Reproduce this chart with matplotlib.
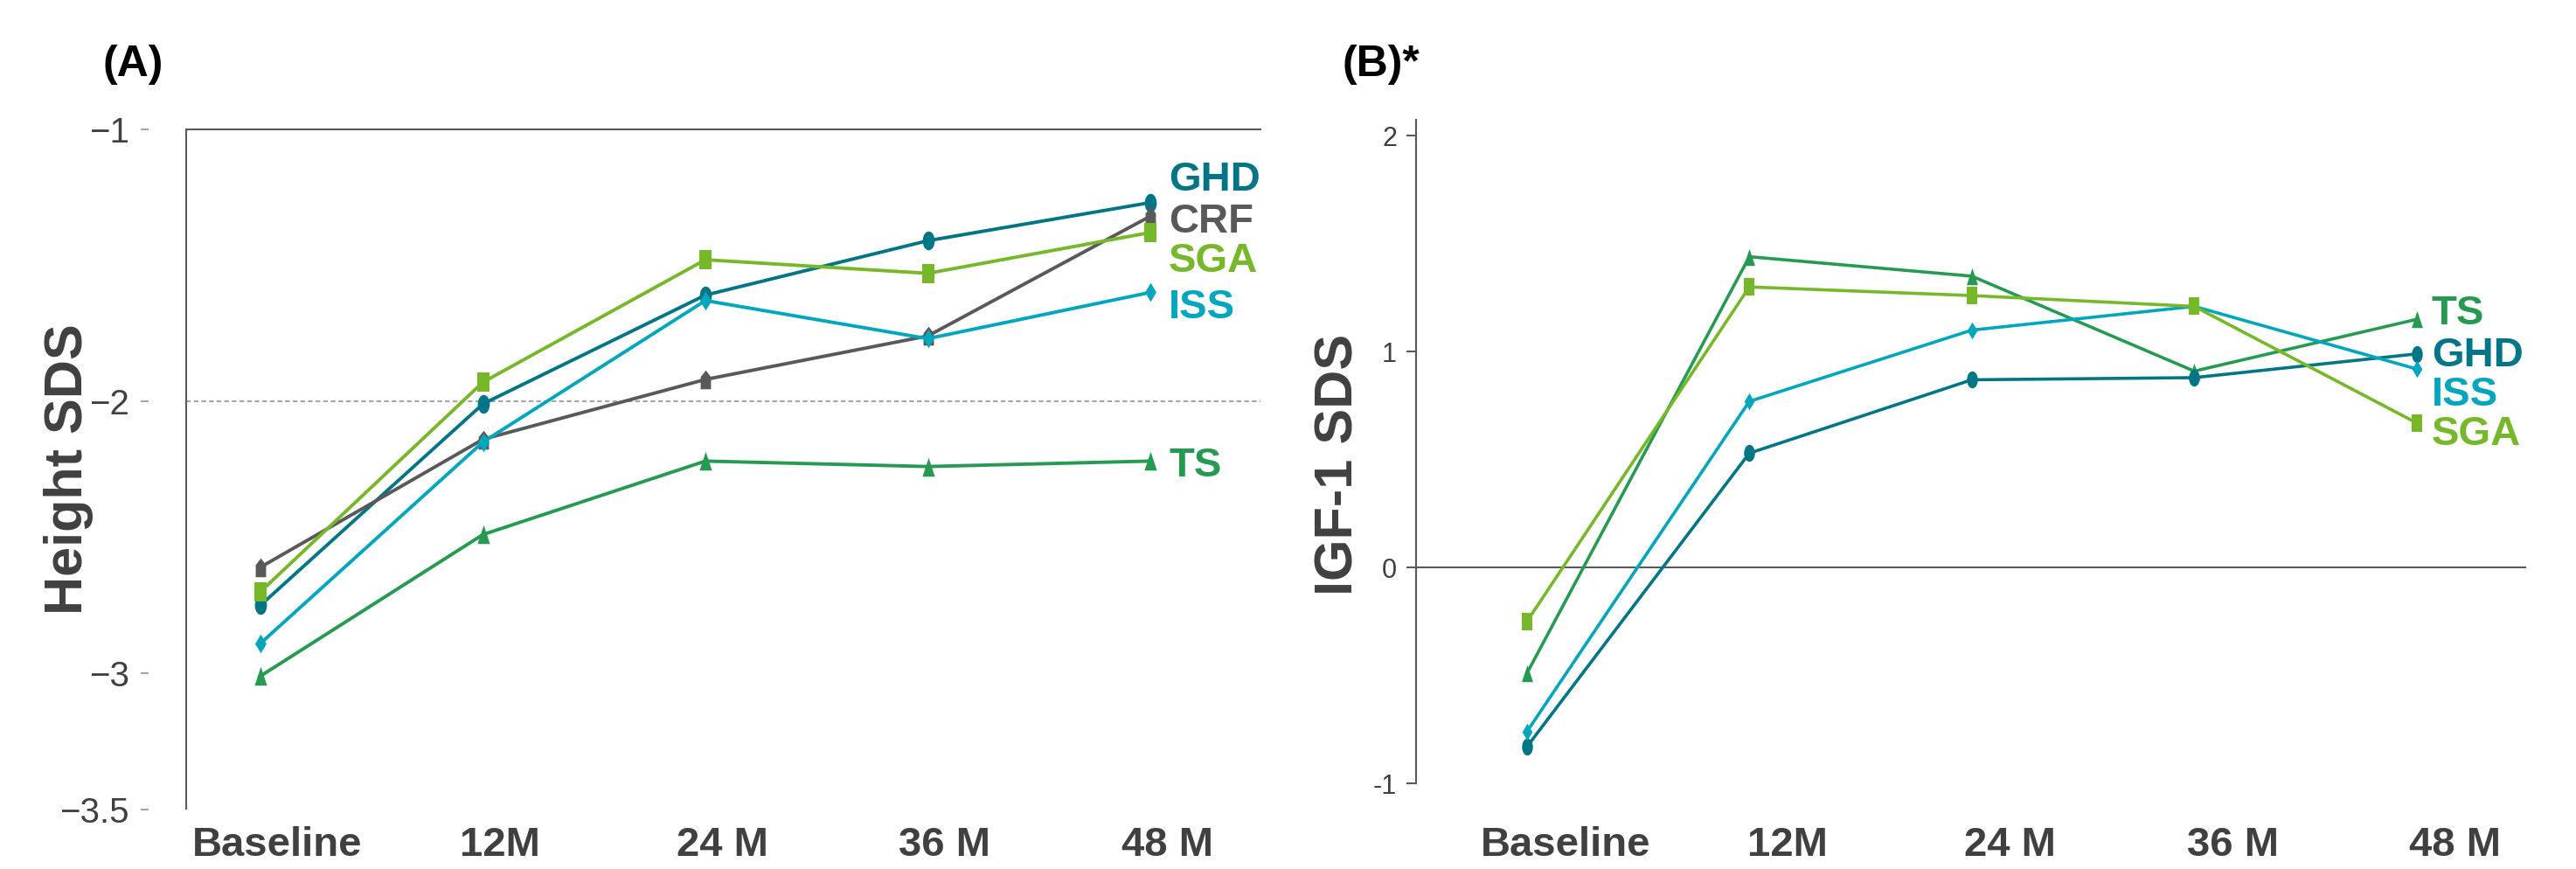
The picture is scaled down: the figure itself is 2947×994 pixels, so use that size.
import matplotlib
matplotlib.use("Agg")
import matplotlib.pyplot as plt
import numpy as np
from matplotlib.path import Path
from matplotlib.transforms import ScaledTranslation

plt.rcParams['font.family'] = ['Liberation Sans', 'DejaVu Sans']

timepoints = ['Baseline', '12M', '24 M', '36 M', '48 M']

# (A) height SDS by diagnosis
height_groups = ['GHD', 'CRF', 'SGA', 'ISS', 'TS']
height_ghd = [-2.75, -2.01, -1.61, -1.41, -1.27]
height_crf = [-2.61, -2.14, -1.92, -1.76, -1.32]
height_sga = [-2.70, -1.93, -1.48, -1.53, -1.38]
height_iss = [-2.89, -2.15, -1.63, -1.77, -1.60]
height_ts = [-3.01, -2.49, -2.22, -2.24, -2.22]

# (B) IGF-1 SDS by diagnosis
igf_groups = ['TS', 'GHD', 'ISS', 'SGA']
igf_ts = [-0.49, 1.44, 1.35, 0.91, 1.15]
igf_ghd = [-0.83, 0.53, 0.87, 0.88, 0.99]
igf_iss = [-0.76, 0.77, 1.10, 1.21, 0.92]
igf_sga = [-0.25, 1.30, 1.26, 1.21, 0.67]

colors = {'GHD': '#007585', 'CRF': '#595959', 'SGA': '#76B82A',
          'ISS': '#00A6BE', 'TS': '#279A52'}


def stretched(verts, sx=0.62):
    v = np.array(verts, dtype=float)
    v[:, 0] *= sx
    return v


circle = Path.unit_circle()
ellipse = Path(circle.vertices * [0.64, 1.0], circle.codes)
markers = {
    'GHD': ellipse,
    'CRF': stretched([(0, 0.5), (0.5, 0.15), (0.5, -0.5), (-0.5, -0.5), (-0.5, 0.15)], 0.55),
    'SGA': stretched([(-0.5, -0.5), (0.5, -0.5), (0.5, 0.5), (-0.5, 0.5)], 0.62),
    'ISS': stretched([(0, 0.5), (0.5, 0), (0, -0.5), (-0.5, 0)], 0.6),
    'TS': stretched([(0, 0.5), (0.5, -0.5), (-0.5, -0.5)], 0.66),
}

W, H = 2947, 994
fig = plt.figure(figsize=(W / 100, H / 100), dpi=100)
x = np.arange(len(timepoints))
px = 0.72  # points per pixel at dpi 100
axis_grey = '#595959'
text_grey = '#404040'

# ---------------- panel A ----------------
axA = fig.add_axes([213 / W, 1 - 925.8 / H, (1442 - 213) / W, (925.8 - 147.7) / H])
series_a = [height_ghd, height_crf, height_sga, height_iss, height_ts]
label_y_a = [-1.17, -1.326, -1.47, -1.641, -2.223]
for name, vals, ly in zip(height_groups, series_a, label_y_a):
    axA.plot(x, vals, color=colors[name], lw=2.8, marker=markers[name],
             markersize=15.5, markeredgewidth=0, zorder=3)
    axA.annotate(name, xy=(x[-1], ly), xytext=(21 * px, 0), textcoords='offset points',
                 ha='left', va='center_baseline', fontsize=34, fontweight='bold',
                 color=colors[name], annotation_clip=False)

axA.set_xlim(-0.334, 4.495)
axA.set_ylim(-3.5, -1)
axA.axhline(-2, color='#8a8a8a', lw=1.1, ls=(0, (3.5, 2.2)), zorder=1)
for s in ['right', 'bottom']:
    axA.spines[s].set_visible(False)
axA.spines['top'].set_color(axis_grey)
axA.spines['top'].set_linewidth(1.5)
axA.spines['left'].set_position(('outward', 43 * px))
axA.spines['left'].set_visible(False)
axA.plot([0, 0], [0, 1], transform=axA.transAxes, color=axis_grey, lw=1.5,
         clip_on=False, solid_capstyle='butt')
axA.set_yticks([-1, -2, -3, -3.5])
axA.set_yticklabels(['\u22121', '\u22122', '\u22123', '\u22123.5'])
axA.tick_params(axis='y', length=9 * px, width=1.1, color='#8c8c8c', pad=13 * px,
                labelsize=29, labelcolor=text_grey)
axA.set_xticks(x)
axA.set_xticklabels(timepoints, fontsize=34, fontweight='bold', color=text_grey)
axA.tick_params(axis='x', length=0, pad=19 * px)
for lab in axA.get_xticklabels():
    lab.set_transform(lab.get_transform() + ScaledTranslation(19 / 100, 0, fig.dpi_scale_trans))
axA.set_ylabel('Height SDS', fontsize=44, fontweight='bold', color=text_grey, va='center')
axA.yaxis.set_label_coords(79 / W, 1 - 537 / H, transform=fig.transFigure)
fig.text(118 / W, 1 - 87 / H, '(A)', fontsize=36, fontweight='bold', color='black',
         ha='left', va='baseline')

# ---------------- panel B ----------------
axB = fig.add_axes([1620 / W, 1 - 896.3 / H, (2890 - 1620) / W, (896.3 - 136.8) / H])
series_b = [igf_ts, igf_ghd, igf_iss, igf_sga]
label_y_b = [1.194, 1.001, 0.82, 0.637]
for name, vals, ly in zip(igf_groups, series_b, label_y_b):
    axB.plot(x, vals, color=colors[name], lw=2.6, marker=markers[name],
             markersize=14, markeredgewidth=0, zorder=3)
    axB.annotate(name, xy=(x[-1], ly), xytext=(17 * px, 0), textcoords='offset points',
                 ha='left', va='center_baseline', fontsize=34, fontweight='bold',
                 color=colors[name], annotation_clip=False)

axB.set_xlim(-0.498, 4.492)
axB.set_ylim(-1, 2.075)
axB.axhline(0, color=axis_grey, lw=1.5, zorder=1)
for s in ['right', 'bottom', 'top']:
    axB.spines[s].set_visible(False)
axB.spines['left'].set_color(axis_grey)
axB.spines['left'].set_linewidth(1.5)
axB.set_yticks([-1, 0, 1, 2])
axB.set_yticklabels(['-1', '0', '1', '2'])
axB.tick_params(axis='y', length=11 * px, width=1.5, color=axis_grey, pad=11 * px,
                labelsize=22, labelcolor=text_grey)
axB.set_xticks(x)
axB.set_xticklabels(timepoints, fontsize=34, fontweight='bold', color=text_grey)
axB.tick_params(axis='x', length=0, pad=49 * px)
for lab in axB.get_xticklabels():
    lab.set_transform(lab.get_transform() + ScaledTranslation(44 / 100, 0, fig.dpi_scale_trans))
axB.set_ylabel('IGF-1 SDS', fontsize=44, fontweight='bold', color=text_grey, va='center')
axB.yaxis.set_label_coords(1532 / W, 1 - 531 / H, transform=fig.transFigure)
fig.text(1535 / W, 1 - 87 / H, '(B)*', fontsize=36, fontweight='bold', color='black',
         ha='left', va='baseline')

fig.savefig('out.png', dpi=100)
